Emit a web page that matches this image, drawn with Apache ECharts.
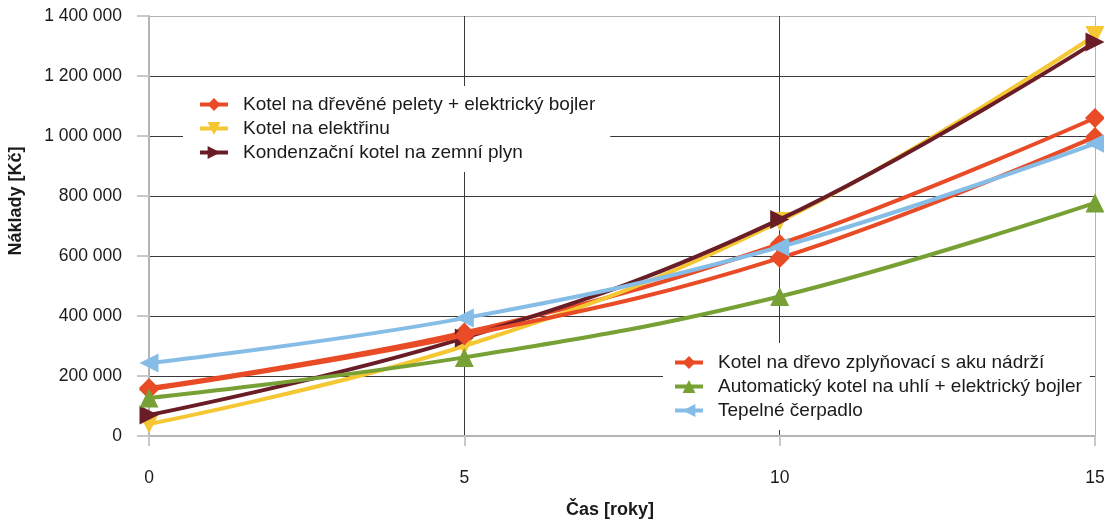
<!DOCTYPE html>
<html><head><meta charset="utf-8">
<script src="https://cdn.jsdelivr.net/npm/echarts@6/dist/echarts.min.js"></script>
<style>html,body{margin:0;padding:0;background:#fff}#c{width:1104px;height:519px}</style>
</head><body><div id="c"></div>
<script>
const years = [0, 5, 10, 15];
const seriesNames = [
  'Kotel na dřevěné pelety + elektrický bojler',
  'Kotel na elektřinu',
  'Kondenzační kotel na zemní plyn',
  'Kotel na dřevo zplyňovací s aku nádrží',
  'Automatický kotel na uhlí + elektrický bojler',
  'Tepelné čerpadlo'
];
const pelety = [160000, 345000, 640000, 1060000];
const elektrina = [40000, 300000, 715000, 1335000];
const plyn = [70000, 327000, 722000, 1313000];
const zplynovaci = [155000, 335000, 593000, 997000];
const uhli = [127000, 262000, 465000, 777000];
const cerpadlo = [243000, 393000, 630000, 975000];
const yTicks = [0, 200000, 400000, 600000, 800000, 1000000, 1200000, 1400000];

const values = [pelety, elektrina, plyn, zplynovaci, uhli, cerpadlo];
const colors = ['#e84b26', '#f4c733', '#6a1d27', '#e84b26', '#77a134', '#86bde6'];
const symbols = ['diamond', 'triangle', 'triangle', 'diamond', 'triangle', 'triangle'];
const rotates = [0, 180, -90, 0, 0, 90];
const sizes = [20, 19, 19, 20, 19, 19];

const font = 'Liberation Sans, Arial, Helvetica, sans-serif';
const fmt = v => String(v).replace(/\B(?=(\d{3})+(?!\d))/g, ' ');

const series = values.map((vals, i) => ({
  name: seriesNames[i],
  type: 'line',
  smooth: 0.4,
  clip: false,
  data: vals.map((v, j) => [years[j], v]),
  symbol: symbols[i],
  symbolRotate: rotates[i],
  symbolSize: sizes[i],
  itemStyle: { color: colors[i] },
  lineStyle: { color: colors[i], width: 4 },
  z: 2 + i
}));

const legendCommon = {
  orient: 'vertical',
  backgroundColor: '#fff',
  itemWidth: 28,
  itemHeight: 16,
  itemGap: 5,
  lineStyle: { width: 4 },
  textStyle: { fontFamily: font, fontSize: 19, color: '#1a1a1a', padding: [0, 0, 0, 10], lineHeight: 19 },
  z: 20
};

const chart = echarts.init(document.getElementById('c'), null, { renderer: 'canvas' });
chart.setOption({
  animation: false,
  backgroundColor: '#fff',
  grid: { left: 149, right: 9, top: 16, bottom: 83, containLabel: false, outerBoundsMode: 'none' },
  xAxis: {
    type: 'value', min: 0, max: 15, interval: 5,
    name: 'Čas [roky]', nameLocation: 'middle', nameGap: 65,
    nameTextStyle: { fontFamily: font, fontSize: 18, fontWeight: 'bold', color: '#1a1a1a', padding: [0, 24, 0, 0] },
    axisLine: { show: true, lineStyle: { color: '#b4b4b4', width: 2 } },
    axisTick: { show: true, length: 10, lineStyle: { color: '#c8c8c8', width: 2 } },
    axisLabel: { fontFamily: font, fontSize: 17.5, color: '#1a1a1a', margin: 33 },
    splitLine: { show: true, lineStyle: { color: ['#b4b4b4', '#3a3a3a', '#3a3a3a', '#b4b4b4'], width: 1 } }
  },
  yAxis: {
    type: 'value', min: yTicks[0], max: yTicks[yTicks.length - 1], interval: yTicks[1] - yTicks[0],
    name: 'Náklady [Kč]', nameLocation: 'middle', nameGap: 124, nameRotate: 90,
    nameTextStyle: { fontFamily: font, fontSize: 18, fontWeight: 'bold', color: '#1a1a1a', padding: [0, 0, 0, 50] },
    axisLine: { show: true, lineStyle: { color: '#b4b4b4', width: 2 } },
    axisTick: { show: true, length: 12, lineStyle: { color: '#c8c8c8', width: 2 } },
    axisLabel: { fontFamily: font, fontSize: 17.5, color: '#1a1a1a', margin: 27, formatter: fmt },
    splitLine: { show: true, lineStyle: { color: ['#b4b4b4', '#3a3a3a', '#3a3a3a', '#3a3a3a', '#3a3a3a', '#3a3a3a', '#3a3a3a', '#b4b4b4'], width: 1 } }
  },
  legend: [
    Object.assign({}, legendCommon, { data: seriesNames.slice(0, 3), left: 183, top: 86, padding: [9, 15, 10, 15] }),
    Object.assign({}, legendCommon, { data: seriesNames.slice(3), left: 663, top: 343, padding: [10, 8, 10, 10] })
  ],
  series: series
});
</script>
</body></html>
